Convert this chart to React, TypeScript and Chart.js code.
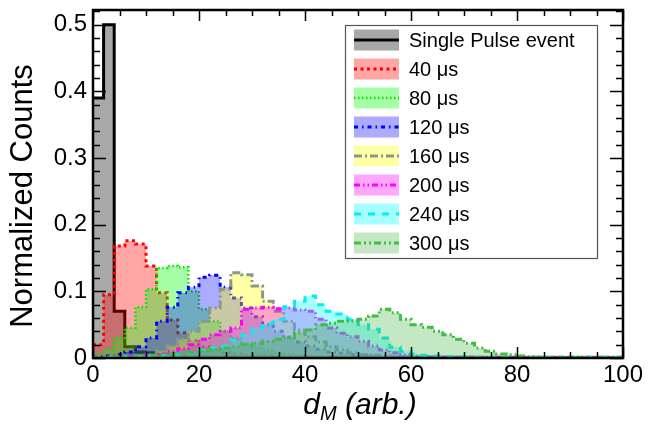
import React, { useEffect, useRef } from 'react';
import { Chart, registerables } from 'chart.js';

Chart.register(...registerables);

// ---------- data ----------
const binWidth = 2;
const binStarts = Array.from({ length: 50 }, (_, i) => i * binWidth);
const xMin = 0;
const xMax = 100;
const yMin = 0;
const yMax = 0.522;
const xTickValues = [0, 20, 40, 60, 80, 100];
const yTickValues = [0, 0.1, 0.2, 0.3, 0.4, 0.5];

const seriesLabels = ['Single Pulse event', '40 \u03bcs', '80 \u03bcs', '120 \u03bcs', '160 \u03bcs', '200 \u03bcs', '240 \u03bcs', '300 \u03bcs'];

const singlePulse = [
  0.39, 0.50, 0.07, 0.017, 0.009, 0.008, 0.005, 0.004, 0.003, 0.002,
  0.002, 0.001, 0.001, 0.001, 0.001, 0.001, 0.001, 0, 0, 0,
  0, 0, 0, 0, 0, 0, 0, 0, 0, 0,
  0, 0, 0, 0, 0, 0, 0, 0, 0, 0,
  0, 0, 0, 0, 0, 0, 0, 0, 0, 0,
];
const us40 = [
  0.020, 0.095, 0.168, 0.176, 0.171, 0.138, 0.098, 0.057, 0.038, 0.026,
  0.017, 0.012, 0.008, 0.006, 0.004, 0.003, 0.003, 0.002, 0.002, 0.002,
  0.001, 0.001, 0.001, 0.001, 0.001, 0.001, 0.001, 0.001, 0.001, 0.001,
  0.001, 0.001, 0.001, 0, 0, 0, 0, 0, 0, 0,
  0, 0, 0, 0, 0, 0, 0, 0, 0, 0,
];
const us80 = [
  0.005, 0.012, 0.030, 0.045, 0.076, 0.103, 0.135, 0.138, 0.136, 0.100,
  0.073, 0.055, 0.040, 0.030, 0.022, 0.016, 0.011, 0.008, 0.006, 0.004,
  0.003, 0.003, 0.002, 0.002, 0.001, 0.001, 0.001, 0.001, 0.001, 0.001,
  0.001, 0.001, 0, 0, 0, 0, 0, 0, 0, 0,
  0, 0, 0, 0, 0, 0, 0, 0, 0, 0,
];
const us120 = [
  0.002, 0.003, 0.005, 0.009, 0.017, 0.030, 0.055, 0.076, 0.098, 0.106,
  0.121, 0.124, 0.106, 0.090, 0.075, 0.062, 0.050, 0.040, 0.031, 0.024,
  0.018, 0.013, 0.009, 0.007, 0.005, 0.004, 0.003, 0.002, 0.001, 0.001,
  0.001, 0.001, 0.001, 0.001, 0.001, 0.001, 0, 0, 0, 0,
  0, 0, 0, 0, 0, 0, 0, 0, 0, 0,
];
const us160 = [
  0.001, 0.001, 0.002, 0.002, 0.003, 0.005, 0.010, 0.018, 0.028, 0.040,
  0.055, 0.075, 0.103, 0.128, 0.125, 0.108, 0.085, 0.070, 0.055, 0.042,
  0.032, 0.024, 0.017, 0.012, 0.008, 0.005, 0.004, 0.003, 0.002, 0.001,
  0.001, 0.001, 0.001, 0.001, 0.001, 0.001, 0.001, 0, 0, 0,
  0, 0, 0, 0, 0, 0, 0, 0, 0, 0,
];
const us200 = [
  0.001, 0.001, 0.001, 0.002, 0.002, 0.004, 0.006, 0.010, 0.014, 0.020,
  0.028, 0.035, 0.040, 0.045, 0.073, 0.075, 0.076, 0.074, 0.075, 0.072,
  0.070, 0.058, 0.045, 0.037, 0.032, 0.025, 0.018, 0.012, 0.008, 0.005,
  0.003, 0.002, 0.001, 0.001, 0.001, 0.001, 0.001, 0.001, 0.001, 0.001,
  0.001, 0.001, 0.001, 0.001, 0.001, 0.001, 0.001, 0.001, 0.001, 0.001,
];
const us240 = [
  0.001, 0.001, 0.001, 0.002, 0.002, 0.003, 0.004, 0.005, 0.006, 0.009,
  0.012, 0.015, 0.018, 0.027, 0.035, 0.045, 0.052, 0.058, 0.077, 0.085,
  0.093, 0.080, 0.070, 0.066, 0.058, 0.050, 0.043, 0.030, 0.016, 0.010,
  0.006, 0.004, 0.003, 0.002, 0.002, 0.002, 0.001, 0.001, 0.001, 0.001,
  0.001, 0.001, 0.001, 0.001, 0.001, 0.001, 0.001, 0.001, 0.001, 0.001,
];
const us300 = [
  0.001, 0.001, 0.002, 0.002, 0.003, 0.004, 0.005, 0.006, 0.008, 0.009,
  0.011, 0.013, 0.015, 0.017, 0.020, 0.022, 0.025, 0.028, 0.031, 0.038,
  0.042, 0.050, 0.052, 0.055, 0.056, 0.058, 0.063, 0.073, 0.068, 0.058,
  0.050, 0.046, 0.040, 0.035, 0.028, 0.022, 0.015, 0.010, 0.006, 0.005,
  0.003, 0.002, 0.001, 0.001, 0.001, 0.001, 0.001, 0.001, 0.001, 0.001,
];

const seriesValues = [singlePulse, us40, us80, us120, us160, us200, us240, us300];

// ---------- styles ----------
const lineColors = ['#000000', '#ff0000', '#00e600', '#0000ff', '#889988', '#ff00ff', '#00f0f0', '#44bb44'];
const fillColors = [
  'rgba(110,110,110,0.6)',
  'rgba(255,0,0,0.35)',
  'rgba(0,255,0,0.35)',
  'rgba(0,0,255,0.33)',
  'rgba(255,255,0,0.35)',
  'rgba(255,0,255,0.35)',
  'rgba(0,255,255,0.35)',
  'rgba(60,180,60,0.3)',
];
const lineWidths = [3, 3, 2.5, 3, 3, 3, 3, 3];
const dashPatterns: number[][] = [
  [],
  [3, 3.5],
  [1.5, 2.5],
  [4, 4, 1.5, 4],
  [8, 3, 2, 3],
  [6, 3, 1.5, 3, 1.5, 3],
  [7, 7],
  [7, 3, 2, 3, 2, 3],
];

const FONT = '"Liberation Sans", Arial, Helvetica, sans-serif';

const framePlugin = {
  id: 'frameTicks',
  afterDatasetsDraw(chart: any) {
    const { ctx, chartArea } = chart;
    const { left, right, top, bottom } = chartArea;
    const xs = chart.scales.x;
    const ys = chart.scales.y;
    ctx.save();
    ctx.strokeStyle = '#000';
    ctx.lineWidth = 1.5;
    ctx.beginPath();
    for (let v = xMin; v <= xMax + 1e-9; v += 5) {
      const px = Math.round(xs.getPixelForValue(v)) + 0.5;
      const len = xTickValues.includes(v) ? 11 : 6;
      ctx.moveTo(px, bottom);
      ctx.lineTo(px, bottom - len);
      ctx.moveTo(px, top);
      ctx.lineTo(px, top + len);
    }
    for (let k = 0; k <= 26; k++) {
      const v = k * 0.02;
      if (v > yMax) break;
      const py = Math.round(ys.getPixelForValue(v)) + 0.5;
      const len = k % 5 === 0 ? 13 : 7;
      ctx.moveTo(left, py);
      ctx.lineTo(left + len, py);
      ctx.moveTo(right, py);
      ctx.lineTo(right - len, py);
    }
    ctx.stroke();
    ctx.lineWidth = 2.5;
    ctx.strokeRect(left, top, right - left, bottom - top);
    ctx.restore();
  },
};

const legendPlugin = {
  id: 'boxLegend',
  afterDraw(chart: any) {
    const { ctx } = chart;
    const bx = 345, by = 25, bw = 252, bh = 233;
    ctx.save();
    ctx.fillStyle = '#fff';
    ctx.fillRect(bx, by, bw, bh);
    ctx.strokeStyle = '#555';
    ctx.lineWidth = 1.2;
    ctx.strokeRect(bx + 0.5, by + 0.5, bw, bh);
    seriesLabels.forEach((lab, i) => {
      const cy = 40 + i * 29;
      ctx.fillStyle = fillColors[i];
      ctx.fillRect(354, cy - 10.5, 45, 21);
      ctx.beginPath();
      ctx.setLineDash(dashPatterns[i]);
      ctx.strokeStyle = lineColors[i];
      ctx.lineWidth = lineWidths[i];
      ctx.moveTo(354, cy);
      ctx.lineTo(399, cy);
      ctx.stroke();
      ctx.setLineDash([]);
      ctx.fillStyle = '#000';
      ctx.font = `20px ${FONT}`;
      ctx.textBaseline = 'middle';
      ctx.textAlign = 'left';
      ctx.fillText(lab, 409, cy + 1);
    });
    ctx.restore();
  },
};

const titlesPlugin = {
  id: 'axisTitles',
  afterDraw(chart: any) {
    const { ctx, chartArea } = chart;
    ctx.save();
    ctx.fillStyle = '#000';
    // y title
    ctx.translate(32, 196);
    ctx.rotate(-Math.PI / 2);
    ctx.font = `31px ${FONT}`;
    ctx.textAlign = 'center';
    ctx.textBaseline = 'alphabetic';
    ctx.fillText('Normalized Counts', 0, 0);
    ctx.setTransform(1, 0, 0, 1, 0, 0);
    // x title: d_M (arb.)
    const big = `italic 30px ${FONT}`;
    const small = `italic 20px ${FONT}`;
    ctx.font = big;
    const wd = ctx.measureText('d').width;
    const wr = ctx.measureText(' (arb.)').width;
    ctx.font = small;
    const wm = ctx.measureText('M').width;
    const total = wd + wm + wr;
    const cx = (chartArea.left + chartArea.right) / 2 + 2;
    let x0 = cx - total / 2;
    const base = 414;
    ctx.textAlign = 'left';
    ctx.font = big;
    ctx.fillText('d', x0, base);
    x0 += wd;
    ctx.font = small;
    ctx.fillText('M', x0, base + 6);
    x0 += wm;
    ctx.font = big;
    ctx.fillText(' (arb.)', x0, base);
    ctx.restore();
  },
};

export default function App() {
  const ref = useRef<HTMLCanvasElement>(null);
  useEffect(() => {
    if (!ref.current) return;
    const datasets = seriesValues.map((vals, i) => ({
      label: seriesLabels[i],
      data: [
        ...vals.map((v, j) => ({ x: binStarts[j], y: v })),
        { x: binStarts[binStarts.length - 1] + binWidth, y: 0 },
      ],
      stepped: 'before' as const,
      borderColor: lineColors[i],
      backgroundColor: fillColors[i],
      borderWidth: lineWidths[i],
      borderDash: dashPatterns[i],
      fill: 'origin',
      pointRadius: 0,
      pointHoverRadius: 0,
      order: seriesValues.length - 1 - i,
    }));
    const chart = new Chart(ref.current, {
      type: 'line',
      data: { datasets },
      options: {
        responsive: false,
        animation: false,
        events: [],
        layout: { padding: { left: 0, top: 10, right: 36, bottom: 0 } },
        plugins: { legend: { display: false }, tooltip: { enabled: false } },
        scales: {
          x: {
            type: 'linear',
            min: xMin,
            max: xMax,
            grid: { display: false, drawTicks: false },
            border: { display: false },
            afterBuildTicks: (s: any) => {
              s.ticks = xTickValues.map((v) => ({ value: v }));
            },
            afterFit: (s: any) => {
              s.height = 68;
              s.paddingLeft = 0;
              s.paddingRight = 0;
            },
            ticks: {
              color: '#000',
              padding: 3,
              maxRotation: 0,
              autoSkip: false,
              font: { family: FONT, size: 24 },
              callback: (v: any) => String(v),
            },
          },
          y: {
            type: 'linear',
            min: yMin,
            max: yMax,
            grid: { display: false, drawTicks: false },
            border: { display: false },
            afterBuildTicks: (s: any) => {
              s.ticks = yTickValues.map((v) => ({ value: v }));
            },
            afterFit: (s: any) => {
              s.width = 93;
              s.paddingTop = 0;
              s.paddingBottom = 0;
            },
            ticks: {
              color: '#000',
              padding: 6,
              autoSkip: false,
              font: { family: FONT, size: 24 },
              callback: (v: any) => (Number(v) === 0 ? '0' : Number(v).toFixed(1)),
            },
          },
        },
      },
      plugins: [framePlugin, legendPlugin, titlesPlugin],
    } as any);
    return () => chart.destroy();
  }, []);
  return (
    <div style={{ position: 'fixed', left: 0, top: 0, width: 659, height: 426, background: '#fff' }}>
      <canvas ref={ref} width={659} height={426} style={{ display: 'block' }} />
    </div>
  );
}
